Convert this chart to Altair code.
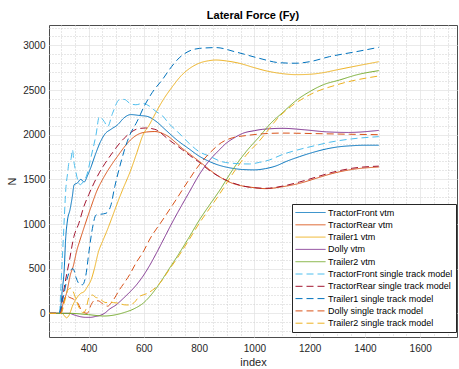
import altair as alt
import pandas as pd

# ---------------- data ----------------
series_names = [
    "TractorFront vtm", "TractorRear vtm", "Trailer1 vtm", "Dolly vtm", "Trailer2 vtm",
    "TractorFront single track model", "TractorRear single track model",
    "Trailer1 single track model", "Dolly single track model", "Trailer2 single track model",
]
series_colors = ["#0072BD", "#D95319", "#EDB120", "#7E2F8E", "#77AC30",
                 "#4DBEEE", "#A2142F", "#0072BD", "#D95319", "#EDB120"]

tf_vtm_x = [257, 294, 300, 305, 312, 317, 324, 333, 341, 348, 360, 372, 384, 396, 408, 425, 443, 460, 481, 505, 529, 553, 584, 612, 644, 680, 720, 765, 800, 837, 870, 909, 958, 1000, 1040, 1078, 1115, 1163, 1210, 1260, 1300, 1356, 1400, 1450]
tf_vtm_y = [0, 0, 90, 260, 485, 820, 1045, 1160, 1300, 1440, 1460, 1500, 1470, 1540, 1630, 1780, 1920, 2010, 2060, 2110, 2190, 2225, 2215, 2205, 2150, 2050, 1940, 1838, 1760, 1700, 1660, 1630, 1610, 1606, 1620, 1650, 1700, 1754, 1800, 1840, 1862, 1877, 1882, 1882]

tr_vtm_x = [257, 296, 311, 320, 335, 344, 359, 366, 388, 410, 430, 451, 470, 487, 510, 529, 555, 577, 610, 640, 680, 740, 801, 861, 909, 950, 982, 1042, 1103, 1163, 1223, 1284, 1356, 1450]
tr_vtm_y = [0, 0, 140, 220, 440, 520, 720, 790, 1000, 1200, 1370, 1500, 1600, 1680, 1780, 1860, 1950, 2000, 2030, 2035, 1996, 1845, 1700, 1555, 1470, 1430, 1414, 1396, 1418, 1455, 1511, 1567, 1612, 1638]

t1_vtm_x = [257, 305, 312, 320, 328, 335, 341, 353, 372, 383, 396, 410, 420, 437, 450, 470, 493, 510, 523, 553, 575, 596, 620, 644, 670, 704, 735, 765, 800, 835, 861, 900, 946, 1000, 1042, 1100, 1151, 1199, 1250, 1300, 1370, 1450]
t1_vtm_y = [0, 0, -25, -50, -30, 20, 75, 150, 224, 240, 298, 380, 485, 700, 800, 950, 1140, 1280, 1381, 1605, 1800, 1990, 2110, 2250, 2390, 2540, 2660, 2740, 2800, 2828, 2836, 2825, 2799, 2750, 2715, 2684, 2672, 2676, 2695, 2727, 2770, 2817]

dolly_vtm_x = [257, 330, 350, 371, 390, 407, 425, 443, 460, 475, 500, 525, 550, 571, 600, 620, 650, 680, 700, 730, 765, 800, 837, 870, 898, 930, 958, 1000, 1030, 1103, 1180, 1260, 1340, 1450]
dolly_vtm_y = [0, 0, -20, -38, -45, -45, -35, -22, 5, 45, 95, 165, 240, 310, 430, 530, 700, 880, 1000, 1170, 1360, 1550, 1710, 1820, 1904, 1970, 2015, 2045, 2060, 2071, 2055, 2032, 2025, 2048]

t2_vtm_x = [257, 330, 400, 456, 500, 530, 564, 600, 630, 656, 692, 728, 765, 801, 837, 873, 921, 970, 1018, 1060, 1103, 1150, 1199, 1250, 1308, 1370, 1450]
t2_vtm_y = [0, 0, -15, -30, -15, 10, 50, 120, 220, 330, 500, 672, 858, 1045, 1210, 1370, 1605, 1810, 1978, 2130, 2250, 2380, 2480, 2560, 2612, 2670, 2717]

tf_st_x = [257, 295, 300, 305, 312, 318, 324, 330, 336, 342, 347, 354, 362, 370, 380, 395, 408, 427, 439, 457, 469, 487, 511, 529, 550, 571, 596, 620, 644, 668, 692, 720, 765, 800, 837, 880, 921, 982, 1018, 1054, 1103, 1151, 1223, 1272, 1344, 1450]
tf_st_y = [0, 0, 300, 600, 1045, 1400, 1560, 1700, 1720, 1830, 1700, 1586, 1480, 1440, 1470, 1560, 1736, 1997, 2202, 2146, 2090, 2240, 2390, 2395, 2350, 2335, 2350, 2320, 2260, 2210, 2120, 2040, 1900, 1810, 1760, 1700, 1680, 1672, 1690, 1717, 1780, 1825, 1880, 1915, 1950, 1978]

tr_st_x = [257, 298, 305, 317, 329, 347, 365, 383, 401, 420, 440, 460, 487, 510, 529, 555, 577, 605, 640, 692, 740, 765, 801, 837, 870, 909, 950, 982, 1042, 1103, 1163, 1223, 1284, 1356, 1450]
tr_st_y = [0, 0, 149, 373, 560, 858, 1008, 1194, 1330, 1460, 1580, 1680, 1800, 1895, 1960, 2030, 2065, 2075, 2060, 1940, 1830, 1770, 1690, 1600, 1535, 1475, 1432, 1412, 1400, 1425, 1470, 1525, 1580, 1625, 1648]

t1_st_x = [257, 293, 300, 310, 322, 334, 344, 355, 366, 378, 390, 402, 414, 427, 445, 463, 480, 495, 511, 530, 547, 576, 600, 630, 668, 700, 728, 760, 801, 861, 934, 1018, 1090, 1150, 1200, 1272, 1368, 1450]
t1_st_y = [0, 0, 60, 200, 380, 480, 500, 400, 330, 320, 420, 700, 950, 1100, 1110, 1120, 1200, 1420, 1620, 1830, 1980, 2150, 2310, 2470, 2620, 2760, 2860, 2930, 2966, 2975, 2925, 2855, 2806, 2800, 2817, 2874, 2929, 2978]

dolly_st_x = [257, 300, 310, 320, 330, 345, 360, 378, 395, 410, 420, 435, 450, 469, 485, 500, 511, 529, 550, 571, 600, 620, 668, 716, 760, 800, 840, 880, 920, 970, 1030, 1103, 1223, 1344, 1450]
dolly_st_y = [0, 0, 120, 200, 180, 160, 120, 20, 0, 100, 140, 140, 110, 80, 130, 200, 260, 340, 440, 560, 700, 821, 1045, 1269, 1480, 1660, 1800, 1910, 1965, 1990, 2010, 2018, 2012, 2005, 2000]

t2_st_x = [257, 300, 315, 325, 335, 345, 355, 368, 380, 390, 402, 414, 425, 439, 450, 463, 475, 490, 511, 530, 547, 565, 583, 610, 632, 656, 692, 728, 765, 801, 837, 873, 921, 970, 1018, 1090, 1199, 1300, 1450]
t2_st_y = [0, 0, 150, 260, 280, 240, 150, 50, 5, 40, 180, 205, 180, 168, 140, 120, 130, 120, 112, 95, 93, 120, 186, 220, 261, 330, 490, 650, 830, 1010, 1170, 1330, 1560, 1770, 1930, 2202, 2445, 2560, 2657]

all_x = [tf_vtm_x, tr_vtm_x, t1_vtm_x, dolly_vtm_x, t2_vtm_x, tf_st_x, tr_st_x, t1_st_x, dolly_st_x, t2_st_x]
all_y = [tf_vtm_y, tr_vtm_y, t1_vtm_y, dolly_vtm_y, t2_vtm_y, tf_st_y, tr_st_y, t1_st_y, dolly_st_y, t2_st_y]

x_grid = list(range(300, 1701, 50))     # minor + major x grid
y_grid = list(range(-200, 3201, 100))   # minor + major y grid
x_label_step = 200
y_label_step = 500

# ---------------- build table ----------------
rows = []
for order, (name, xs, ys) in enumerate(zip(series_names, all_x, all_y)):
    for xv, yv in zip(xs, ys):
        rows.append({"series": name, "x": xv, "y": yv, "k": order})
df = pd.DataFrame(rows)

dash_range = [[1, 0]] * 5 + [[7, 4]] * 5

FONT = "Liberation Sans"
TXT = "#262626"

x_axis = alt.Axis(
    values=x_grid, format="d", title="index",
    labelExpr=f"datum.value % {x_label_step} === 0 ? datum.label : ''",
    grid=True,
    gridColor={"condition": {"test": f"datum.value % {x_label_step} !== 0", "value": "#cfcfcf"}, "value": "#e3e3e3"},
    gridDash={"condition": {"test": f"datum.value % {x_label_step} !== 0", "value": [1, 2]}, "value": [1, 0]},
    ticks=False, tickSize=0, domain=False,
    labelFont=FONT, labelFontSize=10, labelColor=TXT, labelPadding=6,
    titleFont=FONT, titleFontSize=11, titleColor=TXT, titleFontWeight="normal", titlePadding=3,
)
y_axis = alt.Axis(
    values=y_grid, format="d", title="N",
    labelExpr=f"datum.value % {y_label_step} === 0 ? datum.label : ''",
    grid=True,
    gridColor={"condition": {"test": f"datum.value % {y_label_step} !== 0", "value": "#cfcfcf"}, "value": "#e3e3e3"},
    gridDash={"condition": {"test": f"datum.value % {y_label_step} !== 0", "value": [1, 2]}, "value": [1, 0]},
    ticks=False, tickSize=0, domain=False,
    labelFont=FONT, labelFontSize=10, labelColor=TXT, labelPadding=4,
    titleFont=FONT, titleFontSize=11, titleColor=TXT, titleFontWeight="normal", titlePadding=5,
)

chart = alt.Chart(df).mark_line(strokeWidth=1, interpolate="monotone", clip=True).encode(
    x=alt.X("x:Q", scale=alt.Scale(domain=[257, 1733], nice=False, zero=False), axis=x_axis),
    y=alt.Y("y:Q", scale=alt.Scale(domain=[-265, 3228], nice=False, zero=False), axis=y_axis),
    color=alt.Color("series:N", scale=alt.Scale(domain=series_names, range=series_colors),
                    legend=alt.Legend(title=None)),
    strokeDash=alt.StrokeDash("series:N", scale=alt.Scale(domain=series_names, range=dash_range),
                              legend=alt.Legend(title=None)),
    order=alt.Order("k:Q"),
).properties(
    width=408, height=312,
    title=alt.TitleParams("Lateral Force (Fy)", font=FONT, fontSize=11, fontWeight="bold",
                          color="#000000", offset=4, anchor="middle"),
    autosize=alt.AutoSizeParams(type="none"),
    padding={"left": 49, "top": 25, "right": 2, "bottom": 32},
    background="white",
).configure_view(
    stroke="#4d4d4d", strokeWidth=1,
).configure_legend(
    orient="none", legendX=243, legendY=179,
    strokeColor="#262626", fillColor="white", padding=3, cornerRadius=0,
    symbolType="M-3,0H3", symbolSize=100, symbolStrokeWidth=1,
    symbolOffset=10,
    labelFont=FONT, labelFontSize=9, labelColor="#000000", labelLimit=400,
    labelOffset=12, rowPadding=1.3,
)

chart.save("out.html", embed_options={"renderer": "svg", "actions": False})
